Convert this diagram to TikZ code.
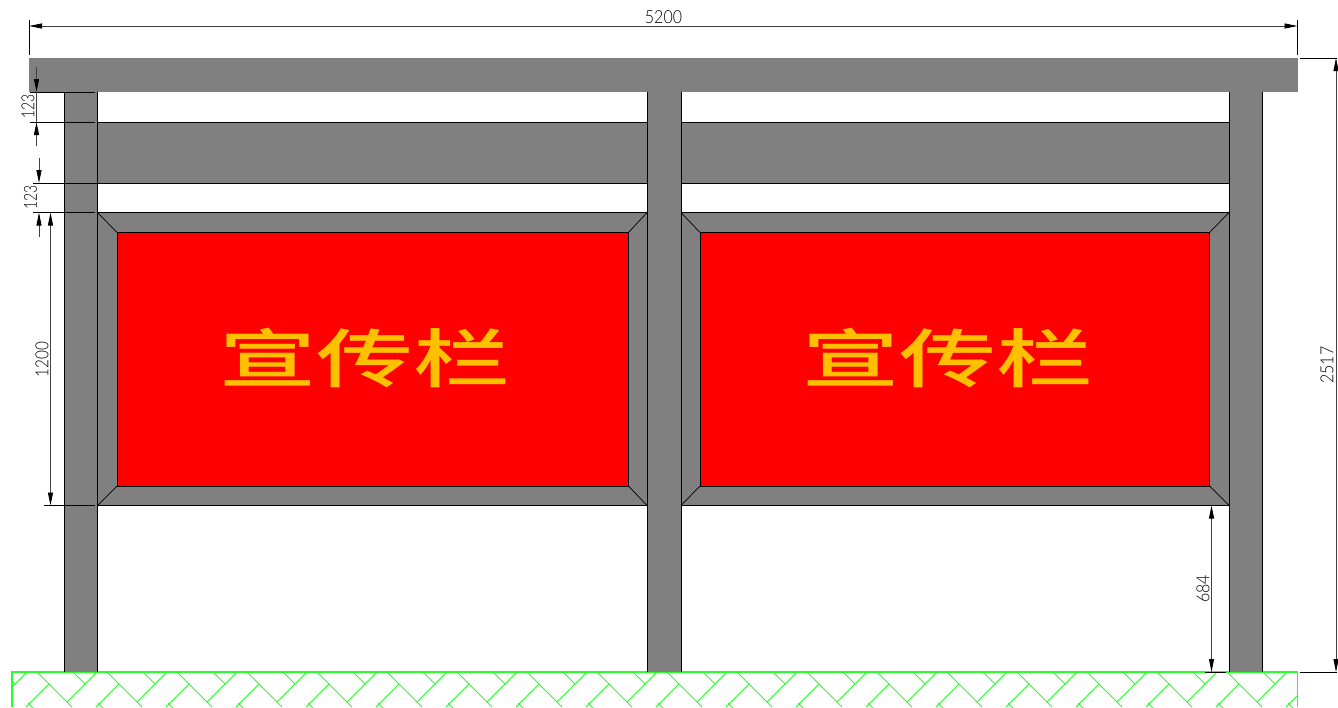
\documentclass[tikz,border=0pt]{standalone}
\usepackage{fontspec}
\setmainfont{Lato Light}
\newfontfamily\cjkfont{Noto Sans CJK SC Medium}
\usetikzlibrary{arrows.meta}
\definecolor{steel}{RGB}{128,128,128}
\definecolor{hatchgreen}{RGB}{40,255,40}
\definecolor{titlegold}{RGB}{255,192,0}
\newcommand{\dimnum}[2][0.94]{\scalebox{#1}[1.06]{#2}}
\newcommand{\titletext}{\scalebox{1.03}[0.68]{宣传栏}}
\tikzset{
  x=1pt,y=-1pt,
  steelfill/.style={fill=steel,draw=none},
  outline/.style={draw=black,line width=0.9pt},
  extline/.style={draw=black,line width=0.7pt},
  dimline/.style={draw=black!75,line width=0.8pt,{Triangle[length=13pt,width=5pt,black]}-{Triangle[length=13pt,width=5pt,black]}},
  outerdim/.style={draw=black!75,line width=0.8pt},
  dimhead/.style={draw=black!75,line width=0.8pt,-{Triangle[length=13pt,width=5pt,black]}},
  dimtext/.style={font=\fontsize{17}{17}\selectfont,text=black,inner sep=0pt},
  hatch/.style={draw=hatchgreen,line width=0.8pt},
  title/.style={font=\cjkfont\fontsize{94}{94}\selectfont,text=titlegold,inner sep=0pt},
}
\begin{document}
\begin{tikzpicture}
\useasboundingbox (0,0) rectangle (1338,707);
\fill[white] (0,0) rectangle (1338,707);
% hatch
\begin{scope}
\clip (12,672) rectangle (1297.5,707);
\foreach \k in {-1,...,18}{
  \pgfmathsetmacro{\xo}{37+70*\k}
  \draw[hatch] (\xo,672) -- ++(35,35);
  \draw[hatch] (\xo+60,672) -- ++(-30,30);
  \draw[hatch] (\xo+36,672) -- ++(12,12);
  \draw[hatch] (\xo+12,684) -- ++(-23,23);
  \draw[hatch] (\xo-9,703) -- ++(5,5);
}
\end{scope}
\draw[hatchgreen,line width=1.1pt] (12,707) -- (12,672) -- (1297.5,672);
\draw[hatchgreen,line width=0.8pt] (1297.5,672) -- (1297.5,707);
% structure
\fill[steelfill] (29,58) rectangle (1297.5,92);
\foreach \a/\b in {64.3/97.5,647/681,1229/1262.3}{
  \fill[steelfill] (\a,92) rectangle (\b,672);
}
\foreach \a/\b/\c/\d in {97.5/647/117/628.5,681/1229/700/1209.5}{
  \filldraw[outline,fill=steel] (\a,122) rectangle (\b,183);
  \filldraw[outline,fill=steel] (\a,212.5) rectangle (\b,505.5);
  \filldraw[outline,fill=red] (\c,232.5) rectangle (\d,486);
  \draw[outline,line width=0.7pt] (\a,212.5) -- (\c,232.5) (\b,212.5) -- (\d,232.5)
     (\a,505.5) -- (\c,486) (\b,505.5) -- (\d,486);
}
\foreach \a/\b in {64.3/97.5,647/681,1229/1262.3}{
  \draw[outline] (\a,92) -- (\a,672) (\b,92) -- (\b,672);
}
% extension lines
\draw[extline] (29,20) -- (29,55) (1297.5,20) -- (1297.5,55);
\draw[extline] (30,92) -- (95,92);
\draw[extline] (30,122) -- (95,122);
\draw[extline] (33,183) -- (97.5,183);
\draw[extline] (33,212.5) -- (95,212.5);
\draw[extline] (44,505.5) -- (95,505.5);
\draw[extline] (1205,672) -- (1226,672);
\draw[extline] (1300,58) -- (1336.5,58) (1300,672) -- (1336.5,672);
% dimensions
\draw[dimline] (29,26) -- (1297.5,26);
\node[dimtext] (w5200) at (663.5,17.5) {\dimnum{5200}};
\draw[dimhead] (36.5,67) -- (36.5,92);
\draw[dimhead] (36.5,146) -- (36.5,122);
\draw[outerdim] (36.5,92) -- (36.5,122);
\node[dimtext,rotate=90] (h123a) at (28,106.5) {\dimnum[0.82]{123}};
\draw[dimhead] (39,158) -- (39,183);
\draw[dimhead] (39,237) -- (39,212.5);
\node[dimtext,rotate=90] (h123b) at (30.5,197.5) {\dimnum[0.82]{123}};
\draw[dimline] (50.5,212.5) -- (50.5,505.5);
\node[dimtext,rotate=90] (h1200) at (42,359.5) {\dimnum[0.9]{1200}};
\draw[dimline] (1211.5,505.5) -- (1211.5,672);
\node[dimtext,rotate=90] (h684) at (1203,589) {\dimnum{684}};
\draw[dimline] (1336,58) -- (1336,672);
\node[dimtext,rotate=90] (h2517) at (1327,365) {\dimnum{2517}};
% titles
\node[title] (t1) at (365,358) {\titletext};
\node[title] (t2) at (948,358) {\titletext};
\end{tikzpicture}
\end{document}
